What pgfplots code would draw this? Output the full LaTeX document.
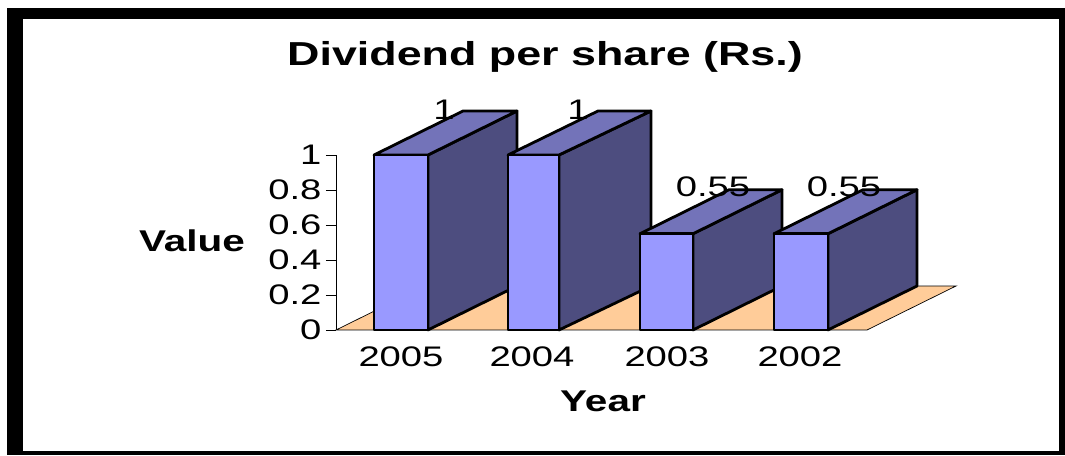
\documentclass[border=0pt]{standalone}
\usepackage{fontspec}
\setmainfont[FakeStretch=1.35]{Liberation Sans}
\usepackage{pgfplots}
\pgfplotsset{compat=1.18}
\definecolor{barfront}{HTML}{9999FF}
\definecolor{bartop}{HTML}{7373B9}
\definecolor{barside}{HTML}{4D4D7F}
\definecolor{floorc}{HTML}{FFCC99}
\pgfplotsset{
  sideface/.style={fill=barside,draw=black,line width=2.8pt,line join=round},
  topface/.style={fill=bartop,draw=black,line width=2.8pt,line join=round},
  frontface/.style={fill=barfront,draw=black,line width=2.8pt,line join=round},
}
\begin{document}
\begin{tikzpicture}
\begin{axis}[
  x=1pt, y=175pt,
  xmin=336, xmax=867, ymin=0, ymax=1,
  clip=false,
  axis y line=left, axis x line=bottom,
  axis line style={-,black,line width=0.9pt},
  x axis line style={draw=none},
  tick align=outside,
  ytick={0,0.2,0.4,0.6,0.8,1},
  yticklabels={0,0.2,0.4,0.6,0.8,1},
  xtick={401,532,667,800},
  xticklabels={2005,2004,2003,2002},
  xtick style={draw=none},
  ytick style={black,line width=0.9pt},
  major tick length=10pt,
  tick label style={font=\fontsize{28.3}{28.3}\selectfont},
  yticklabel style={anchor=east,xshift=-1pt},
  xticklabel style={anchor=base,yshift=-26pt},
  xlabel={Year},
  ylabel={Value},
  every axis title shift=0pt,
  title={Dividend per share (Rs.)},
  title style={at={(axis cs:545,1.56)},anchor=center,font=\fontsize{33.2}{33.2}\selectfont\bfseries},
  xlabel style={at={(axis cs:603,-0.406)},anchor=center,font=\fontsize{30}{30}\selectfont\bfseries},
  ylabel style={at={(axis cs:192,0.51)},anchor=center,rotate=-90,font=\fontsize{30}{30}\selectfont\bfseries},
]
\path (axis cs:0,-0.7143) rectangle (axis cs:1065,1.8857);
\fill[black] (axis cs:7,1.84) rectangle (axis cs:1065,1.7771);
\fill[black] (axis cs:7,-0.7143) rectangle (axis cs:1065,-0.6914);
\fill[black] (axis cs:7,1.84) rectangle (axis cs:23,-0.7143);
\fill[black] (axis cs:1059,1.84) rectangle (axis cs:1065,-0.7143);
\addplot[fill=floorc,draw=black,line width=0.7pt] coordinates {(336,0)(867,0)(956,0.2514)(425,0.2514)} --cycle;
% 2005
\addplot[sideface] coordinates {(428,0)(517,0.2514)(517,1.2514)(428,1)} --cycle;
\addplot[topface] coordinates {(374,1)(463,1.2514)(517,1.2514)(428,1)} --cycle;
\addplot[frontface] coordinates {(374,0)(428,0)(428,1)(374,1)} --cycle;
% 2004
\addplot[sideface] coordinates {(559,0)(651,0.2514)(651,1.2514)(559,1)} --cycle;
\addplot[topface] coordinates {(508,1)(598,1.2514)(651,1.2514)(559,1)} --cycle;
\addplot[frontface] coordinates {(508,0)(559,0)(559,1)(508,1)} --cycle;
% 2003
\addplot[sideface] coordinates {(693,0)(782,0.2514)(782,0.8014)(693,0.55)} --cycle;
\addplot[topface] coordinates {(640,0.55)(729,0.8014)(782,0.8014)(693,0.55)} --cycle;
\addplot[frontface] coordinates {(640,0)(693,0)(693,0.55)(640,0.55)} --cycle;
% 2002
\addplot[sideface] coordinates {(828,0)(917,0.2514)(917,0.8014)(828,0.55)} --cycle;
\addplot[topface] coordinates {(774,0.55)(863,0.8014)(917,0.8014)(828,0.55)} --cycle;
\addplot[frontface] coordinates {(774,0)(828,0)(828,0.55)(774,0.55)} --cycle;
\node[font=\fontsize{28.3}{28.3}\selectfont,anchor=base] at (axis cs:444,1.2) {1};
\node[font=\fontsize{28.3}{28.3}\selectfont,anchor=base] at (axis cs:578,1.2) {1};
\node[font=\fontsize{28.3}{28.3}\selectfont,anchor=base] at (axis cs:713,0.76) {0.55};
\node[font=\fontsize{28.3}{28.3}\selectfont,anchor=base] at (axis cs:844,0.76) {0.55};
\end{axis}
\end{tikzpicture}
\end{document}
